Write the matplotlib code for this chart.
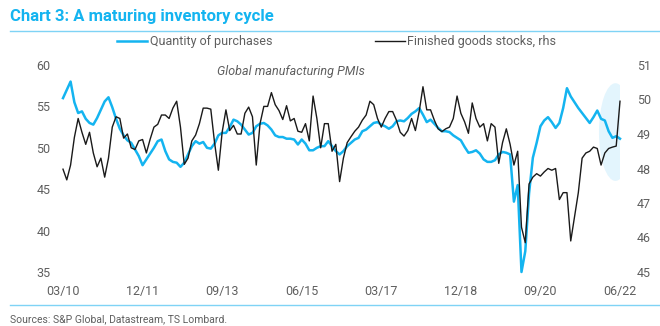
import numpy as np
import matplotlib.pyplot as plt
from matplotlib.patches import Ellipse
from matplotlib.lines import Line2D

plt.rcParams['font.family'] = ['Roboto', 'DejaVu Sans']

# monthly readings, Mar 2010 .. Jun 2022
purchases = [
    56.0, 57.0, 58.0, 55.5, 54.2, 54.4, 53.5, 53.0, 52.8, 53.6, 54.6, 55.6,
    56.1, 54.9, 53.5, 52.3, 51.5, 50.9, 50.6, 49.8, 49.0, 47.9, 48.6, 49.3,
    50.0, 50.8, 51.0, 49.6, 48.6, 48.3, 48.2, 47.7, 48.2, 49.2, 50.2, 50.8,
    50.5, 50.7, 50.0, 49.9, 50.5, 51.5, 51.8, 51.8, 52.5, 53.4, 53.2, 52.8,
    52.2, 51.6, 51.8, 52.6, 52.9, 53.0, 52.7, 52.2, 51.5, 51.3, 51.3, 51.1,
    51.1, 51.0, 50.4, 51.0, 50.5, 49.7, 49.7, 50.0, 50.2, 50.2, 50.8, 50.2,
    49.6, 49.2, 49.6, 50.2, 50.6, 51.0, 51.2, 52.0, 52.2, 52.6, 53.0, 53.1,
    52.8, 52.6, 52.3, 52.6, 53.2, 53.3, 53.2, 53.6, 54.1, 54.4, 54.8, 54.0,
    53.1, 53.4, 52.9, 52.4, 52.0, 52.0, 51.9, 51.5, 51.2, 50.9, 50.1, 49.4,
    49.5, 49.7, 49.3, 48.6, 48.3, 48.3, 48.5, 49.2, 49.5, 49.4, 49.2, 43.5,
    45.5, 35.0, 37.5, 44.5, 48.8, 50.6, 52.6, 53.3, 53.7, 53.1, 52.4, 53.0,
    54.8, 57.2, 56.2, 55.5, 54.8, 54.2, 53.6, 53.0, 53.7, 54.5, 53.5, 53.3,
    52.0, 51.2, 51.4, 51.1,
]
stocks = [
    47.98, 47.67, 48.1, 48.9, 49.45, 49.05, 48.7, 49.05, 48.45, 48.05, 48.3, 47.75,
    48.3, 49.2, 49.5, 49.45, 48.88, 49.0, 48.6, 48.55, 48.8, 48.84, 48.45, 48.85,
    49.2, 49.28, 49.55, 49.55, 49.45, 49.75, 49.95, 49.2, 48.12, 48.3, 48.8, 48.97,
    49.3, 49.75, 49.75, 49.72, 48.75, 47.95, 49.05, 49.7, 49.1, 49.25, 49.0, 49.0,
    49.6, 49.78, 49.5, 48.1, 49.3, 49.8, 49.8, 50.2, 49.85, 49.68, 49.42, 49.82,
    49.38, 49.45, 49.08, 49.05, 49.3, 48.8, 50.1, 49.45, 48.6, 49.3, 49.3, 48.5,
    48.7, 47.62, 48.3, 48.75, 48.92, 49.08, 49.2, 49.4, 49.55, 49.95, 49.85, 49.45,
    49.2, 49.45, 49.65, 49.65, 49.4, 49.05, 48.94, 49.1, 49.45, 49.1, 49.65, 50.37,
    49.7, 49.7, 49.4, 49.15, 49.07, 49.15, 49.2, 49.45, 50.1, 49.6, 49.35, 49.02,
    49.9, 49.45, 49.2, 49.3, 48.8, 49.3, 49.2, 48.15, 48.75, 49.15, 48.7, 48.1,
    48.5, 46.3, 45.85, 47.55, 47.75, 47.85, 47.78, 47.9, 48.0, 47.95, 48.0, 47.1,
    47.3, 47.3, 45.9, 46.6, 47.3, 48.3, 48.45, 48.5, 48.62, 48.58, 48.1, 48.45,
    48.58, 48.62, 48.65, 49.95,
]
tick_labels = ['03/10', '12/11', '09/13', '06/15', '03/17', '12/18', '09/20', '06/22']
left_ticks = [35, 40, 45, 50, 55, 60]
right_ticks = [45, 46, 47, 48, 49, 50, 51]

BLUE = '#14b4f0'
LINE = '#7fd3f5'
GREY = '#5f5f5f'

months = np.arange(len(purchases))

fig = plt.figure(figsize=(6.6, 3.26), dpi=100)
ax = fig.add_axes([63 / 660, 1 - 272 / 326, (620 - 63) / 660, (272 - 65) / 326])
ax2 = ax.twinx()

# highlight the latest readings
ax.add_patch(Ellipse((145.8, 51.9), 8.7, 11.8, facecolor='#e3f5fd',
                     edgecolor='none', zorder=0))

ax.plot(months, purchases, color=BLUE, lw=1.8, clip_on=False, zorder=2)
ax2.plot(months, stocks, color='#1a1a1a', lw=1.0, clip_on=False)

ax.set_xlim(0, len(purchases) - 1)
ax.set_ylim(35, 60)
ax2.set_ylim(45, 51)
ax.set_xticks(np.arange(0, len(purchases), 21))
ax.set_xticklabels(tick_labels)
ax.set_yticks(left_ticks)
ax2.set_yticks(right_ticks)

for a in (ax, ax2):
    for s in a.spines.values():
        s.set_visible(False)
    a.tick_params(length=0, labelsize=9, labelcolor=GREY)
ax.tick_params(axis='y', pad=9)
ax.tick_params(axis='x', pad=9)
ax2.tick_params(axis='y', pad=12)

ax.text(0.41, 0.97, 'Global manufacturing PMIs', transform=ax.transAxes,
        ha='center', va='center', style='italic', fontsize=9, color=GREY)

fig.text(10 / 660, 1 - 16 / 326, 'Chart 3: A maturing inventory cycle',
         fontsize=12, fontweight='bold', color=BLUE, va='center')
fig.add_artist(Line2D([10 / 660, 1], [1 - 30.5 / 326] * 2, color=LINE, lw=1))
fig.add_artist(Line2D([10 / 660, 1], [1 - 305 / 326] * 2, color=LINE, lw=1))
fig.text(10 / 660, 1 - 319 / 326, 'Sources: S&P Global, Datastream, TS Lombard.',
         fontsize=7.5, color=GREY, va='center')

handles = [Line2D([], [], color=BLUE, lw=1.8), Line2D([], [], color='#1a1a1a', lw=1.0)]
fig.legend(handles, ['Quantity of purchases', 'Finished goods stocks, rhs'],
           loc='center', bbox_to_anchor=(0.51, 1 - 42 / 326), ncol=2,
           frameon=False, fontsize=9, labelcolor=GREY, handlelength=2.4,
           handletextpad=0.2, columnspacing=8.2)

fig.savefig('out.png', dpi=100)
